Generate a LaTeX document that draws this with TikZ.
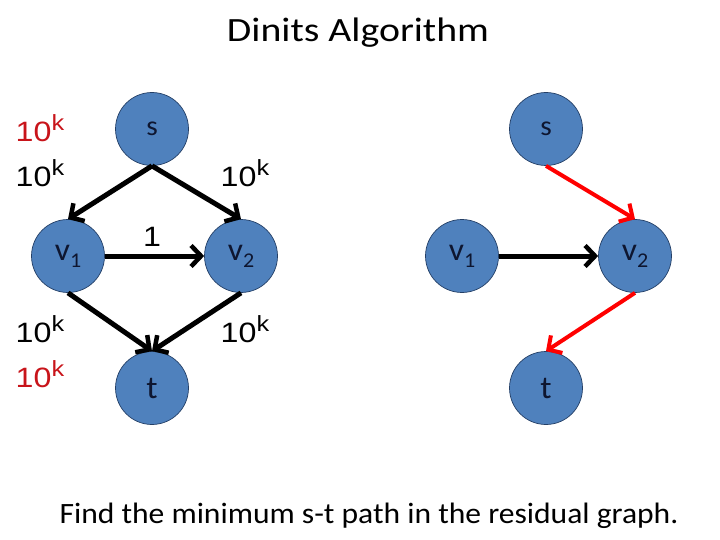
\documentclass[tikz,border=0pt]{standalone}
\usepackage{fontspec}
\setmainfont{Carlito}
\newfontfamily\titlef[FakeStretch=1.17]{Carlito}
\newfontfamily\capf[FakeStretch=1.07]{Carlito}
\newfontfamily\nodef[FakeStretch=1.05]{Carlito}
\newfontfamily\arialf[FakeStretch=1.15]{Liberation Sans}
\usetikzlibrary{arrows.meta}
\definecolor{nodeblue}{HTML}{4F81BD}
\definecolor{nodeedge}{HTML}{243F66}
\definecolor{nodetext}{HTML}{0E1630}
\definecolor{capred}{HTML}{C8141A}
\definecolor{pathred}{HTML}{FF0000}
\newcommand{\tenk}{10\raisebox{11pt}{\fontsize{22}{24}\selectfont k}}
\newcommand{\vsub}[1]{v\raisebox{-7pt}{\fontsize{21}{23}\selectfont #1}}
\begin{document}
\begin{tikzpicture}[x=1pt,y=-1pt,
  vtx/.style={circle,fill=nodeblue,draw=nodeedge,line width=0.7pt,minimum size=73pt,inner sep=0pt,text=nodetext,font=\nodef\fontsize{32}{36}\selectfont},
  caplbl/.style={font=\arialf\fontsize{28}{30}\selectfont,inner sep=0pt,anchor=base west},
  edg/.style={line width=5pt,-{Straight Barb[length=10pt,width=21pt,line width=4.5pt]}},
  redg/.style={draw=pathred,line width=4pt,-{Straight Barb[length=10pt,width=21pt,line width=4pt]}}]
\useasboundingbox (0,0) rectangle (720,540);
\node[font=\titlef\fontsize{34}{40}\selectfont,anchor=base,inner sep=0pt] (title) at (358,42) {Dinits Algorithm};
% left graph
\node[vtx] (s) at (152,129) {\raisebox{-3pt}{\fontsize{28}{30}\selectfont s}};
\node[vtx] (v1) at (68,256) {\vsub{1}};
\node[vtx] (v2) at (241,256) {\vsub{2}};
\node[vtx] (t) at (152,388) {t};
\draw[edg] (s.south) -- (v1.north);
\draw[edg] (s.south) -- (v2.north);
\draw[edg] (v1.east) -- (v2.west);
\draw[edg] (v1.south) -- (t.north);
\draw[edg] (v2.south) -- (t.north);
\node[caplbl,text=capred] (c1) at (15.5,142) {\tenk};
\node[caplbl] (c2) at (15.5,187) {\tenk};
\node[caplbl] (c3) at (220.5,187) {\tenk};
\node[caplbl,anchor=base] (c4) at (152,247) {1};
\node[caplbl] (c5) at (15.5,342) {\tenk};
\node[caplbl] (c6) at (220.5,342) {\tenk};
\node[caplbl,text=capred] (c7) at (15.5,387) {\tenk};
% right graph
\node[vtx] (rs) at (546,129) {\raisebox{-3pt}{\fontsize{28}{30}\selectfont s}};
\node[vtx] (rv1) at (462,256) {\vsub{1}};
\node[vtx] (rv2) at (635,256) {\vsub{2}};
\node[vtx] (rt) at (546,388) {t};
\draw[redg] (rs.south) -- (rv2.north);
\draw[edg] (rv1.east) -- (rv2.west);
\draw[redg] (rv2.south) -- (rt.north);
\node[font=\capf\fontsize{29.5}{34}\selectfont,anchor=base,inner sep=0pt] (caption) at (369,523) {Find the minimum s-t path in the residual graph.};
\end{tikzpicture}
\end{document}
